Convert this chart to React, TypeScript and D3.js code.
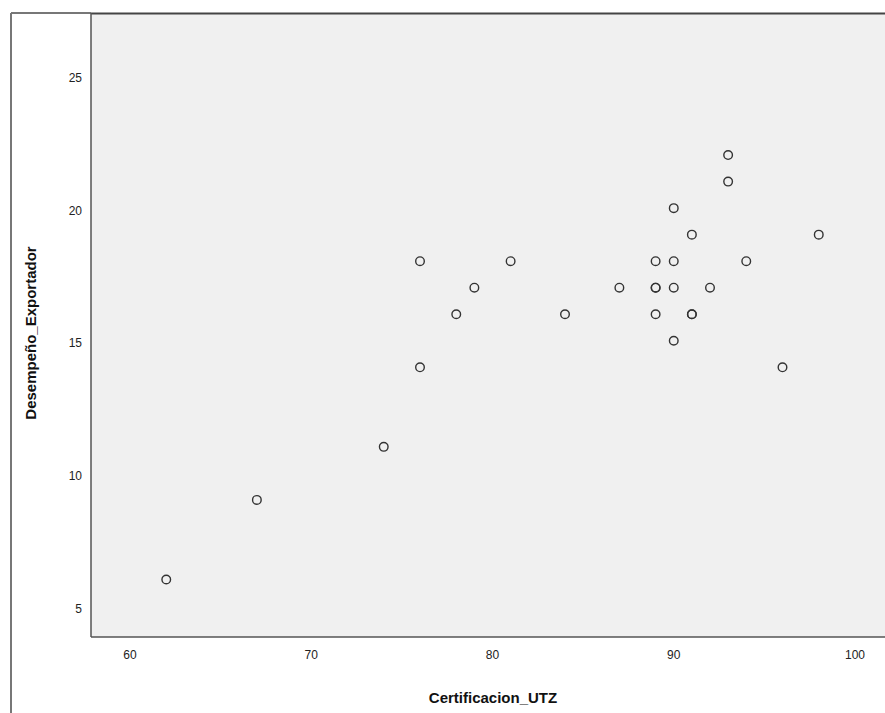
import React from "react";
import * as d3 from "d3";

const certificacion = [62, 67, 74, 76, 76, 78, 79, 81, 84, 87, 89, 89, 89, 89, 90, 90, 90, 90, 91, 91, 91, 92, 93, 93, 94, 96, 98];
const desempeno = [6, 9, 11, 18, 14, 16, 17, 18, 16, 17, 18, 17, 17, 16, 20, 18, 17, 15, 19, 16, 16, 17, 22, 21, 18, 14, 19];
const xTicks = [60, 70, 80, 90, 100];
const yTicks = [5, 10, 15, 20, 25];

export default function App() {
  const W = 885, H = 713;
  const left = 91, top = 14, right = 885, bottom = 637;
  const x = d3.scaleLinear().domain([60, 100]).range([130, 855]);
  const y = d3.scaleLinear().domain([5, 25]).range([606, 75.5]);
  const font = "'Liberation Sans', Arial, sans-serif";
  return (
    <svg width={W} height={H} style={{ position: "absolute", left: 0, top: 0 }}>
      <rect x={0} y={0} width={W} height={H} fill="#fff" />
      <line x1={11} y1={13} x2={left} y2={13} stroke="#777" strokeWidth={2} />
      <line x1={11} y1={13} x2={11} y2={H} stroke="#777" strokeWidth={2} />
      <rect x={left} y={top} width={right - left} height={bottom - top} fill="#f0f0f0" />
      <line x1={left} y1={13.5} x2={right} y2={13.5} stroke="#444" strokeWidth={2} />
      <line x1={left} y1={13} x2={left} y2={bottom} stroke="#555" strokeWidth={1.5} />
      <line x1={left} y1={bottom} x2={right} y2={bottom} stroke="#555" strokeWidth={1.5} />
      {xTicks.map((t) => (
        <text key={t} x={x(t)} y={659} textAnchor="middle" fontFamily={font} fontSize={12} fill="#222">
          {t}
        </text>
      ))}
      {yTicks.map((t) => (
        <text key={t} x={82} y={y(t) + 6.5} textAnchor="end" fontFamily={font} fontSize={12} fill="#222">
          {t}
        </text>
      ))}
      {certificacion.map((c, i) => (
        <circle key={i} cx={x(c)} cy={y(desempeno[i])} r={4.3} fill="none" stroke="#333" strokeWidth={1.4} />
      ))}
      <text x={493} y={703} textAnchor="middle" fontFamily={font} fontSize={15} fontWeight="bold" fill="#111">
        Certificacion_UTZ
      </text>
      <text
        transform={`translate(36,333) rotate(-90)`}
        textAnchor="middle"
        fontFamily={font}
        fontSize={15}
        fontWeight="bold"
        fill="#111"
      >
        Desempeño_Exportador
      </text>
    </svg>
  );
}
